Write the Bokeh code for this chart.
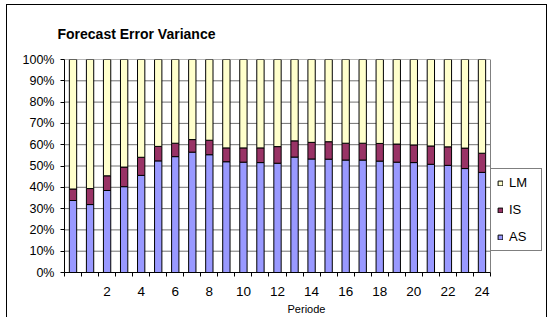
from bokeh.plotting import figure
from bokeh.models import (ColumnDataSource, FixedTicker, Legend, LegendItem,
                          NumeralTickFormatter)
from bokeh.embed import file_html
from bokeh.resources import INLINE

# ---- data (shares in percent) ----
periods = list(range(0, 25))
as_share = [33.8, 31.9, 38.5, 40.3, 45.6, 52.4, 54.4, 56.5, 55.3, 52.0, 51.8, 51.6, 51.3,
            54.2, 53.3, 53.2, 52.8, 52.8, 52.3, 51.8, 51.6, 50.8, 50.3, 48.8, 47.0]
is_share = [5.4, 7.5, 6.9, 9.2, 8.5, 6.8, 6.3, 5.9, 6.8, 6.5, 6.7, 6.9, 7.8,
            7.6, 7.8, 8.2, 7.9, 7.9, 8.3, 8.5, 8.3, 8.6, 8.7, 9.6, 9.0]
lm_share = [60.8, 60.6, 54.6, 50.5, 45.9, 40.8, 39.3, 37.6, 37.9, 41.5, 41.5, 41.5, 40.9,
            38.2, 38.9, 38.6, 39.3, 39.3, 39.4, 39.7, 40.1, 40.6, 41.0, 41.6, 44.0]
series = ["AS", "IS", "LM"]
colors = ["#9999FF", "#993366", "#FFFFCC"]
x_labels = list(range(2, 25, 2))
y_ticks = [i / 10 for i in range(11)]

src = ColumnDataSource(dict(
    period=periods,
    AS=[v / 100 for v in as_share],
    IS=[v / 100 for v in is_share],
    LM=[v / 100 for v in lm_share],
))

FONT = "Liberation Sans"

# plot-area extent in category units; frame is widened to host the legend
x_lo = periods[0] - 0.5
x_hi = periods[-1] + 0.5
W, H = 541, 313
ML, MR, MT, MB = 57, 0, 54, 46
plot_px = 426.0
px_per_unit = plot_px / (x_hi - x_lo)
frame_w = W - ML - MR
x_end = x_lo + frame_w / px_per_unit

p = figure(width=W, height=H, output_backend="svg", toolbar_location=None,
           x_range=(x_lo, x_end), y_range=(0, 1),
           title="Forecast Error Variance",
           min_border_left=ML, min_border_right=MR, min_border_top=MT, min_border_bottom=MB)
p.styles = {"margin-left": "6px", "margin-top": "4px",
            "border-left": "1px solid black", "border-top": "1px solid black",
            "border-right": "1px solid black"}
p.background_fill_color = "white"
p.border_fill_color = "white"
p.outline_line_color = None

p.title.text_font = FONT
p.title.text_font_size = "14px"
p.title.text_font_style = "bold"
p.title.text_color = "black"
p.title.align = "left"
p.title.offset = -7
p.title.standoff = 36

# gridlines and plot-area border (only across the plot area)
p.xgrid.grid_line_color = None
p.ygrid.grid_line_color = None
p.segment(x0=[x_lo] * len(y_ticks), x1=[x_hi] * len(y_ticks), y0=y_ticks, y1=y_ticks,
          line_color="#707070", line_width=1)
p.segment(x0=[x_hi], x1=[x_hi], y0=[0], y1=[1], line_color="#808080", line_width=1)

rs = p.vbar_stack(series, x="period", width=0.43, source=src, fill_color=colors,
                  line_color="black", line_width=1)

# axes
p.xaxis.bounds = (x_lo, x_hi)
p.xaxis.ticker = FixedTicker(ticks=x_labels, minor_ticks=[x_lo + i for i in range(len(periods) + 1)])
p.xaxis.major_tick_out = 0
p.xaxis.major_tick_in = 0
p.xaxis.minor_tick_out = 4
p.xaxis.minor_tick_in = 0
p.xaxis.minor_tick_line_color = "black"
p.xaxis.axis_line_color = "black"
p.xaxis.major_label_text_font = FONT
p.xaxis.major_label_text_font_size = "13.5px"
p.xaxis.major_label_text_color = "black"
p.xaxis.major_label_standoff = 10
p.xaxis.axis_label = "Periode"
p.xaxis.axis_label_text_font = FONT
p.xaxis.axis_label_text_font_size = "11px"
p.xaxis.axis_label_text_font_style = "normal"
p.xaxis.axis_label_text_color = "black"
p.xaxis.axis_label_standoff = 4

p.yaxis.ticker = FixedTicker(ticks=y_ticks)
p.yaxis.formatter = NumeralTickFormatter(format="0%")
p.yaxis.major_tick_out = 4
p.yaxis.major_tick_in = 0
p.yaxis.minor_tick_line_color = None
p.yaxis.major_tick_line_color = "black"
p.yaxis.axis_line_color = "black"
p.yaxis.major_label_text_font = FONT
p.yaxis.major_label_text_font_size = "12.5px"
p.yaxis.major_label_text_color = "black"
p.yaxis.major_label_standoff = 6

legend = Legend(items=[LegendItem(label="LM", renderers=[rs[2]]),
                       LegendItem(label="IS", renderers=[rs[1]]),
                       LegendItem(label="AS", renderers=[rs[0]])],
                location=(426, 21), orientation="vertical",
                glyph_width=6, glyph_height=6, label_height=15, label_width=26,
                label_standoff=6, spacing=12, padding=6, margin=0,
                label_text_font=FONT, label_text_font_size="13px",
                label_text_color="black", label_text_baseline="middle",
                border_line_color="black", border_line_width=1,
                background_fill_color="white", background_fill_alpha=1)
p.add_layout(legend, "center")

open("out.html", "w").write(file_html(p, INLINE))
